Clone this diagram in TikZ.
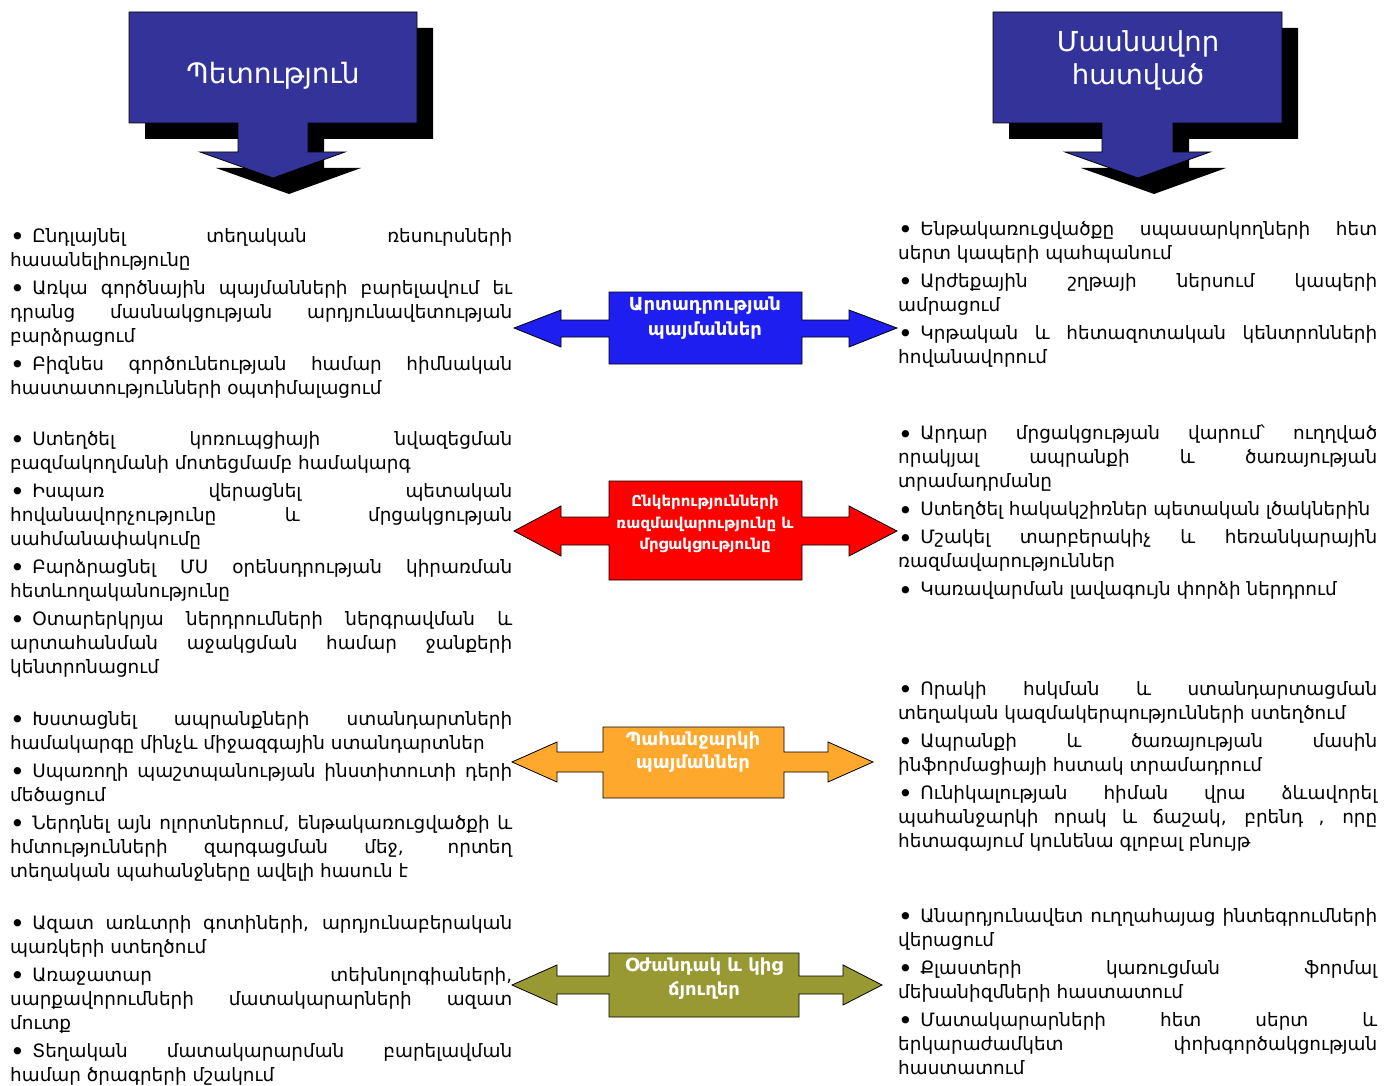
\documentclass[tikz,border=0pt]{standalone}
\usepackage{fontspec}
\setmainfont{DejaVu Sans}

\definecolor{hdrblue}{RGB}{51,51,153}
\definecolor{prodblue}{RGB}{30,30,240}
\definecolor{firmred}{RGB}{255,0,0}
\definecolor{demorange}{RGB}{255,168,46}
\definecolor{supolive}{RGB}{153,153,51}

\hyphenpenalty=10000
\tolerance=9999
\newcommand{\bul}{\raisebox{-3.5pt}{\fontsize{25}{24}\selectfont•}\hspace{0.4em}}
\newcommand{\gap}{\par\vspace{4pt}}

\tikzset{
  hdrbox/.style={fill=hdrblue, draw=black, line width=0.8pt},
  hdrshade/.style={fill=black, shift={(16,16)}},
  hdrtext/.style={text=white, align=center, font=\fontsize{28}{33}\selectfont},
  twoway/.style={draw=black, line width=0.8pt},
  boxtext/.style={text=white, align=center, inner sep=0pt, font=\bfseries\fontsize{18}{25}\selectfont},
  blocktext/.style={inner sep=0pt, anchor=north west, align=justify,
    font=\fontsize{18.4}{24}\selectfont}
}

\begin{document}
\begin{tikzpicture}[x=1pt, y=-1pt]
\useasboundingbox (0,0) rectangle (1394,1086);

% header arrows
\fill[hdrshade] (129,12) -- (417,12) -- (417,123) -- (308,123) -- (308,152) -- (345,152)
  -- (273,178) -- (200,152) -- (238,152) -- (238,123) -- (129,123) -- cycle;
\draw[hdrbox] (129,12) -- (417,12) -- (417,123) -- (308,123) -- (308,152) -- (345,152)
  -- (273,178) -- (200,152) -- (238,152) -- (238,123) -- (129,123) -- cycle;
\node[hdrtext] (state) at (273,76) {Պետություն};

\fill[hdrshade] (993,12) -- (1282,12) -- (1282,123) -- (1173,123) -- (1173,152) -- (1210,152)
  -- (1138,178) -- (1065,152) -- (1102,152) -- (1102,123) -- (993,123) -- cycle;
\draw[hdrbox] (993,12) -- (1282,12) -- (1282,123) -- (1173,123) -- (1173,152) -- (1210,152)
  -- (1138,178) -- (1065,152) -- (1102,152) -- (1102,123) -- (993,123) -- cycle;
\node[hdrtext, font=\fontsize{27.5}{33}\selectfont] (private) at (1138,60) {Մասնավոր\\հատված};

% middle double arrows
\draw[twoway, fill=prodblue] (609,292) -- (802,292) -- (802,320) -- (849,320) -- (849,310)
  -- (897,328) -- (849,347) -- (849,337) -- (802,337) -- (802,364) -- (609,364) -- (609,337)
  -- (561,337) -- (561,347) -- (514,328) -- (561,310) -- (561,320) -- (609,320) -- cycle;
\node[boxtext] (prod) at (705,318) {Արտադրության\\պայմաններ};

\draw[twoway, fill=firmred] (609,481) -- (802,481) -- (802,517) -- (849,517) -- (849,506)
  -- (897,531) -- (849,556) -- (849,545) -- (802,545) -- (802,580) -- (609,580) -- (609,545)
  -- (561,545) -- (561,556) -- (514,531) -- (561,506) -- (561,517) -- (609,517) -- cycle;
\node[boxtext, font=\bfseries\fontsize{15}{21.5}\selectfont] (firm) at (705,524)
  {Ընկերությունների\\ռազմավարությունը և\\մրցակցությունը};

\draw[twoway, fill=demorange] (603,727) -- (784,727) -- (784,752) -- (828,752) -- (828,742)
  -- (873,762) -- (828,782) -- (828,772) -- (784,772) -- (784,798) -- (603,798) -- (603,772)
  -- (557,772) -- (557,782) -- (512,762) -- (557,742) -- (557,752) -- (603,752) -- cycle;
\node[boxtext, font=\bfseries\fontsize{18}{23}\selectfont] (demand) at (693,752)
  {Պահանջարկի\\պայմաններ};

\draw[twoway, fill=supolive] (609,953) -- (799,953) -- (799,976) -- (843,976) -- (843,965)
  -- (882,985) -- (843,1005) -- (843,994) -- (799,994) -- (799,1017) -- (609,1017) -- (609,994)
  -- (557,994) -- (557,1005) -- (512,985) -- (557,965) -- (557,976) -- (609,976) -- cycle;
\node[boxtext, font=\bfseries\fontsize{18}{24}\selectfont] (support) at (704,979)
  {Օժանդակ և կից\\ճյուղեր};

% left column
\node[blocktext, text width=502pt] (stateprod) at (10,228) {%
\bul Ընդլայնել տեղական ռեսուրսների\linebreak հասանելիությունը\gap
\bul Առկա գործնային պայմանների բարելավում եւ\linebreak դրանց մասնակցության արդյունավետության\linebreak բարձրացում\gap
\bul Բիզնես գործունեության համար հիմնական\linebreak հաստատությունների օպտիմալացում};

\node[blocktext, text width=502pt] (statefirm) at (10,431) {%
\bul Ստեղծել կոռուպցիայի նվազեցման\linebreak բազմակողմանի մոտեցմամբ համակարգ\gap
\bul Իսպառ վերացնել պետական\linebreak հովանավորչությունը և մրցակցության\linebreak սահմանափակումը\gap
\bul Բարձրացնել ՄՍ օրենսդրության կիրառման\linebreak հետևողականությունը\gap
\bul Օտարերկրյա ներդրումների ներգրավման և\linebreak արտահանման աջակցման համար ջանքերի\linebreak կենտրոնացում};

\node[blocktext, text width=502pt] (statedemand) at (10,711) {%
\bul Խստացնել ապրանքների ստանդարտների\linebreak համակարգը մինչև միջազգային ստանդարտներ\gap
\bul Սպառողի պաշտպանության ինստիտուտի դերի\linebreak մեծացում\gap
\bul Ներդնել այն ոլորտներում, ենթակառուցվածքի և\linebreak հմտությունների զարգացման մեջ, որտեղ\linebreak տեղական պահանջները ավելի հասուն է};

\node[blocktext, text width=502pt] (statesupport) at (10,915) {%
\bul Ազատ առևտրի գոտիների, արդյունաբերական\linebreak պառկերի ստեղծում\gap
\bul Առաջատար տեխնոլոգիաների,\linebreak սարքավորումների մատակարարների ազատ\linebreak մուտք\gap
\bul Տեղական մատակարարման բարելավման\linebreak համար ծրագրերի մշակում};

% right column
\node[blocktext, text width=479pt] (privprod) at (898,221) {%
\bul Ենթակառուցվածքը սպասարկողների հետ\linebreak սերտ կապերի պահպանում\gap
\bul Արժեքային շղթայի ներսում կապերի\linebreak ամրացում\gap
\bul Կրթական և հետազոտական կենտրոնների\linebreak հովանավորում};

\node[blocktext, text width=479pt] (privfirm) at (898,425) {%
\bul Արդար մրցակցության վարում՝ ուղղված\linebreak որակյալ ապրանքի և ծառայության\linebreak տրամադրմանը\gap
\bul Ստեղծել հակակշիռներ պետական լծակներին\gap
\bul Մշակել տարբերակիչ և հեռանկարային\linebreak ռազմավարություններ\gap
\bul Կառավարման լավագույն փորձի ներդրում};

\node[blocktext, text width=479pt] (privdemand) at (898,681) {%
\bul Որակի հսկման և ստանդարտացման\linebreak տեղական կազմակերպությունների ստեղծում\gap
\bul Ապրանքի և ծառայության մասին\linebreak ինֆորմացիայի հստակ տրամադրում\gap
\bul Ունիկալության հիման վրա ձևավորել\linebreak պահանջարկի որակ և ճաշակ, բրենդ , որը\linebreak հետագայում կունենա գլոբալ բնույթ};

\node[blocktext, text width=479pt] (privsupport) at (898,908) {%
\bul Անարդյունավետ ուղղահայաց ինտեգրումների\linebreak վերացում\gap
\bul Քլաստերի կառուցման ֆորմալ\linebreak մեխանիզմների հաստատում\gap
\bul Մատակարարների հետ սերտ և\linebreak երկարաժամկետ փոխգործակցության\linebreak հաստատում};
\end{tikzpicture}
\end{document}
